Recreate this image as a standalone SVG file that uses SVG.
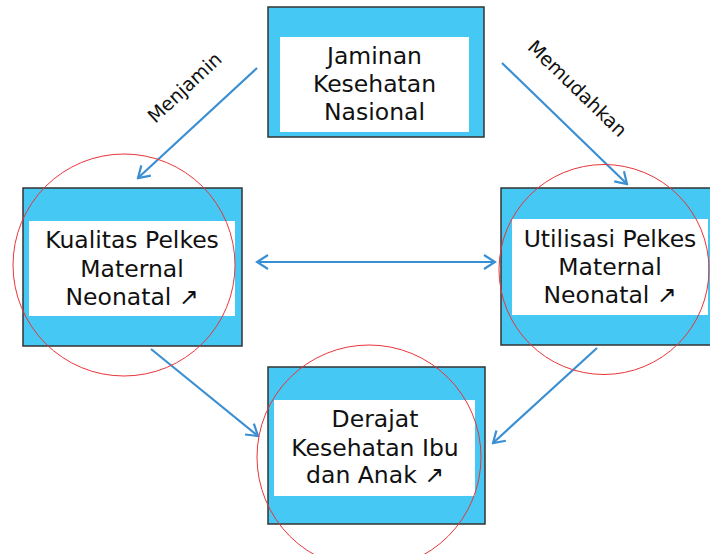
<svg xmlns="http://www.w3.org/2000/svg" width="710" height="554" viewBox="0 0 710 554">
<defs>
<style>
.box{fill:#45c8f3;stroke:#333;stroke-width:1.5}
.inner{fill:#fff}
.t{font-family:"DejaVu Sans",Verdana,sans-serif;font-size:23.5px;fill:#111;text-anchor:middle}
.lbl{font-family:"DejaVu Sans",Verdana,sans-serif;font-size:19px;fill:#111;text-anchor:middle}
.ring{fill:none;stroke:#e8353a;stroke-width:1}
.c{stroke:#3a8fd3;stroke-width:2.2;fill:none}
</style>
<marker id="ah" viewBox="-14 -9 16 18" refX="0" refY="0" markerWidth="16" markerHeight="18" markerUnits="userSpaceOnUse" orient="auto-start-reverse">
<path d="M-11,-7 L0,0 L-11,7" fill="none" stroke="#3a8fd3" stroke-width="2.2"/>
</marker>
</defs>
<rect width="710" height="554" fill="#fff"/>
<g id="connectors">
<line class="c" x1="257" y1="68" x2="138" y2="178" marker-end="url(#ah)"/>
<line class="c" x1="502" y1="63" x2="627" y2="184" marker-end="url(#ah)"/>
<line class="c" x1="257" y1="262" x2="495" y2="262" marker-start="url(#ah)" marker-end="url(#ah)"/>
<line class="c" x1="151" y1="349" x2="258" y2="436" marker-end="url(#ah)"/>
<line class="c" x1="597" y1="348" x2="493" y2="443" marker-end="url(#ah)"/>
<text class="lbl" transform="translate(185,88) rotate(-43)" y="6">Menjamin</text>
<text class="lbl" transform="translate(577,89) rotate(44)" y="6">Memudahkan</text>
</g>
<g id="jkn">
<rect class="box" x="268" y="7" width="216" height="130"/>
<rect class="inner" x="280" y="37" width="189" height="95"/>
<text class="t" x="374.5" y="64">Jaminan</text>
<text class="t" x="374.5" y="92">Kesehatan</text>
<text class="t" x="374.5" y="120">Nasional</text>
</g>
<g id="kualitas">
<rect class="box" x="23" y="188" width="219" height="158"/>
<rect class="inner" x="29" y="221" width="206" height="95"/>
<text class="t" x="132" y="248">Kualitas Pelkes</text>
<text class="t" x="132" y="277">Maternal</text>
<text class="t" x="132" y="305">Neonatal ↗</text>
<circle class="ring" cx="124" cy="265" r="111"/>
</g>
<g id="utilisasi">
<rect class="box" x="501" y="188" width="220" height="157"/>
<rect class="inner" x="512" y="219" width="196" height="96"/>
<text class="t" x="610" y="247">Utilisasi Pelkes</text>
<text class="t" x="610" y="275">Maternal</text>
<text class="t" x="610" y="303">Neonatal ↗</text>
<circle class="ring" cx="604" cy="269.5" r="105"/>
</g>
<g id="derajat">
<rect class="box" x="268" y="367" width="217" height="157"/>
<rect class="inner" x="274" y="400" width="201" height="96"/>
<text class="t" x="375" y="427">Derajat</text>
<text class="t" x="375" y="456">Kesehatan Ibu</text>
<text class="t" x="375" y="483">dan Anak ↗</text>
<circle class="ring" cx="369" cy="457" r="112"/>
</g>
</svg>
